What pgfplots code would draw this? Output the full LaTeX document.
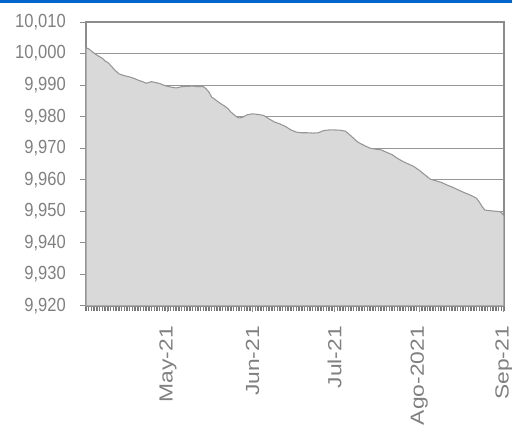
\documentclass[border=0pt]{standalone}
\usepackage{fontspec}
\setmainfont{Liberation Sans}
\newfontfamily\ylabfont[FakeStretch=0.87]{Liberation Sans}
\newfontfamily\xlabfont[FakeStretch=1.2]{Liberation Sans}
\usepackage{pgfplots}
\pgfplotsset{compat=1.18}
\definecolor{lblgray}{RGB}{128,128,128}
\definecolor{axgray}{RGB}{140,140,140}
\definecolor{gridgray}{RGB}{150,150,150}
\definecolor{areafill}{RGB}{217,217,217}
\definecolor{arealine}{RGB}{150,150,150}
\definecolor{topblue}{RGB}{0,102,204}
\begin{document}
\begin{tikzpicture}
\begin{axis}[
  scale only axis, width=313.5pt, height=213pt,
  xmin=0, xmax=153, ymin=9920, ymax=10010,
  axis line style={draw=axgray, line width=0.9pt},
  ytick={9920,9930,...,10010},
  ymajorgrids, grid style={draw=gridgray, line width=0.9pt},
  xtick={30,61,91,122,153},
  xticklabels={May-21,Jun-21,Jul-21,Ago-2021,Sep-21},
  minor xtick={0,1,...,153},
  tick align=outside,
  xtick pos=bottom, ytick pos=left,
  major tick length=4.5pt, minor tick length=3.5pt,
  tick style={draw=axgray, line width=0.75pt},
  minor tick style={draw=axgray!85!black, line width=1.1pt},
  scaled y ticks=false,
  yticklabel style={font=\ylabfont\fontsize{14.25}{16}\selectfont, text=lblgray, anchor=east, inner sep=0pt,
    /pgf/number format/.cd, fixed, precision=0, 1000 sep={,}, assume math mode=true},
  yticklabel shift=10.5pt,
  xticklabel style={font=\xlabfont\fontsize{14.25}{16}\selectfont, text=lblgray, rotate=90, anchor=east, inner sep=0pt},
  xticklabel shift=10.5pt,
]
\addplot[fill=areafill, draw=arealine, line width=0.8pt] coordinates {
(0,10001.8) (1,10001.5) (3,10000.1) (4,9999.5) (6,9998.5) (7,9997.6) (8,9997.2)
(10,9995.3) (12,9993.6) (14,9993.0) (16,9992.6) (18,9992.0) (19,9991.6) (21,9991.0)
(22,9990.6) (24,9991.1) (25,9990.9) (27,9990.5) (29,9989.8) (31,9989.4) (33,9989.1)
(35,9989.5) (37,9989.6) (39,9989.7) (41,9989.5) (43,9989.5) (44,9988.8) (45,9987.8)
(46,9986.2) (47,9985.6) (49,9984.3) (51,9983.2) (52,9982.5) (53,9981.5) (55,9980.0)
(56,9979.6) (57,9979.7) (59,9980.6) (61,9980.9) (63,9980.7) (65,9980.4) (67,9979.3)
(69,9978.3) (71,9977.7) (73,9976.9) (75,9975.8) (77,9975.1) (79,9974.9) (81,9974.9)
(83,9974.8) (85,9974.9) (87,9975.6) (89,9975.8) (91,9975.8) (93,9975.7) (95,9975.4)
(97,9973.9) (99,9972.3) (100,9971.7) (102,9970.8) (104,9970.0) (106,9969.7) (108,9969.5)
(110,9968.7) (112,9968.0) (114,9966.8) (116,9965.8) (118,9965.0) (120,9964.2) (122,9963.0)
(124,9961.6) (126,9960.2) (128,9959.7) (130,9959.2) (132,9958.4) (134,9957.7) (136,9956.9)
(138,9956.1) (140,9955.4) (142,9954.6) (143,9954.1) (144,9952.9) (145,9951.5) (146,9950.4)
(148,9950.2) (150,9950.0) (151.5,9949.9) (152,9949.6) (153,9948.6)
} \closedcycle;
\end{axis}
\pgfresetboundingbox
\path[use as bounding box] (-64.5pt,-90.75pt) rectangle (319.5pt,229.5pt);
\fill[topblue] (-64.5pt,227pt) rectangle (319.5pt,229.5pt);
\end{tikzpicture}
\end{document}
